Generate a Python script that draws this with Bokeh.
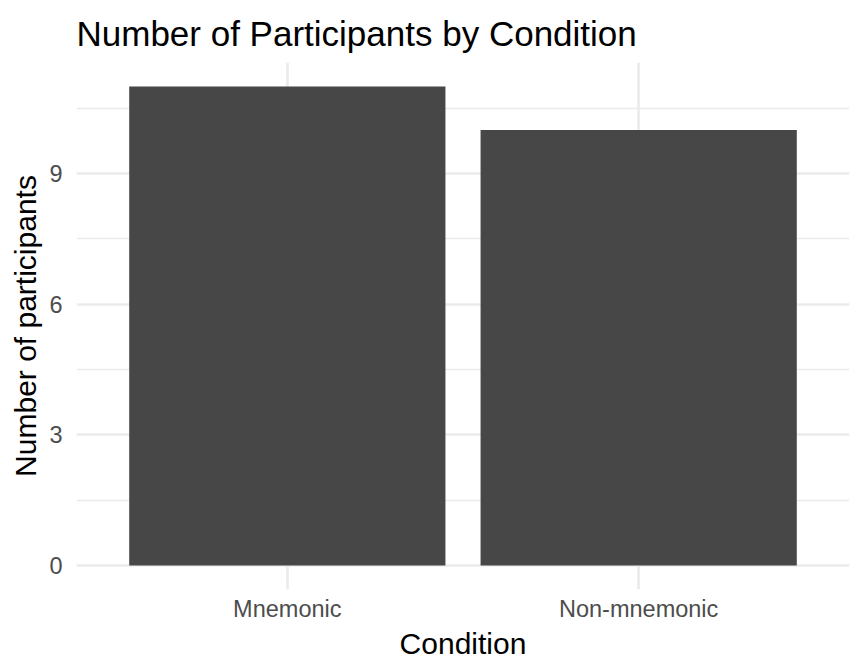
from bokeh.plotting import figure
from bokeh.models import FactorRange, Range1d, FixedTicker
from bokeh.embed import file_html
from bokeh.resources import INLINE

conditions = ["Mnemonic", "Non-mnemonic"]
participants = [11, 10]
y_ticks = [0, 3, 6, 9]
y_minor = [1.5, 4.5, 7.5, 10.5]

FONT = "Liberation Sans"
GRID = "#EBEBEB"

p = figure(
    x_range=FactorRange(factors=conditions, range_padding=0.1,
                        range_padding_units="absolute"),
    y_range=Range1d(-0.55, 11.55),
    width=856, height=664,
    min_border_left=76, min_border_right=7,
    min_border_top=62, min_border_bottom=75,
    title="Number of Participants by Condition",
    output_backend="svg", toolbar_location=None,
)
p.outline_line_color = None

p.vbar(x=conditions, top=participants, width=0.9, bottom=0,
       fill_color="#474747", line_color=None)

# title
p.title.text_font = FONT
p.title.text_font_size = "35px"
p.title.text_font_style = "normal"
p.title.text_color = "black"
p.title.align = "left"
p.title.standoff = 19
p.title.offset = 0

# grids
p.xgrid.grid_line_color = GRID
p.xgrid.grid_line_width = 2.7
p.ygrid.grid_line_color = GRID
p.ygrid.grid_line_width = 2.7
p.ygrid.minor_grid_line_color = GRID
p.ygrid.minor_grid_line_width = 1.35

p.yaxis.ticker = FixedTicker(ticks=y_ticks, minor_ticks=y_minor)

for ax in (p.xaxis, p.yaxis):
    ax.axis_line_color = None
    ax.major_tick_line_color = None
    ax.minor_tick_line_color = None
    ax.major_tick_out = 0
    ax.major_tick_in = 0
    ax.minor_tick_out = 0
    ax.major_label_text_font = FONT
    ax.major_label_text_font_size = "23.5px"
    ax.major_label_text_color = "#4D4D4D"
    ax.axis_label_text_font = FONT
    ax.axis_label_text_font_size = "30px"
    ax.axis_label_text_font_style = "normal"
    ax.axis_label_text_color = "black"

p.xaxis.axis_label = "Condition"
p.yaxis.axis_label = "Number of participants"
p.xaxis.major_label_standoff = 6
p.xaxis.axis_label_standoff = 2
p.yaxis.major_label_standoff = 14
p.yaxis.axis_label_standoff = 4

open("out.html", "w").write(file_html(p, INLINE))
